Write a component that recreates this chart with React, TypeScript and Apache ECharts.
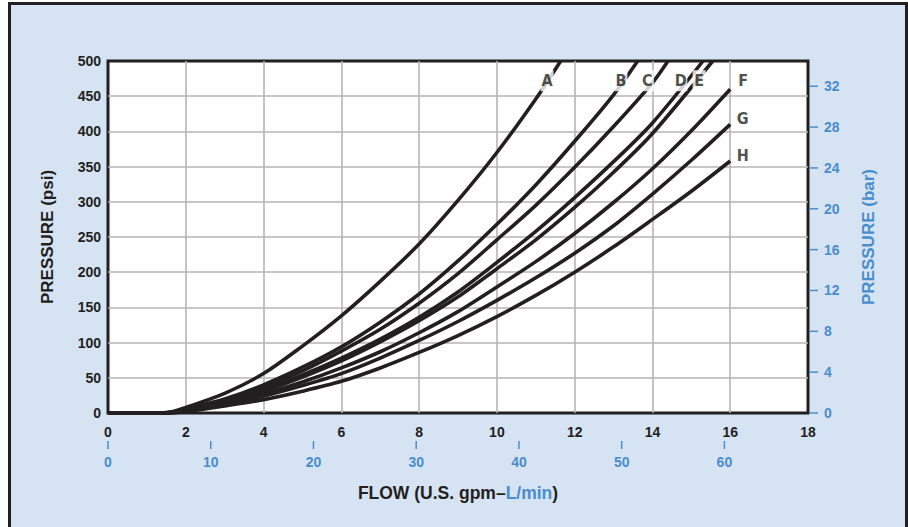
import React, { useEffect, useRef } from "react";
import * as echarts from "echarts";

// ---- data ----
const flowGpm = [0, 1, 1.5, 2, 3, 4, 5, 6, 7, 8, 9, 10, 11, 12, 13, 14, 15, 16];
const curveA = [0, 0, 0.5, 8, 28, 56, 95, 138, 187, 240, 302, 370, 446];
const curveB = [0, 0, 0.3, 6, 20, 40, 65, 94, 129, 169, 216, 268, 324, 386, 452];
const curveC = [0, 0, 0.3, 5, 18, 37, 60, 88, 119, 156, 198, 246, 295, 349, 407, 469];
const curveD = [0, 0, 0.2, 4, 16, 33, 54, 78, 105, 136, 172, 214, 258, 306, 357, 412];
const curveE = [0, 0, 0.2, 4, 15, 31, 51, 74, 101, 131, 165, 205, 246, 292, 342, 397];
const curveF = [0, 0, 0.2, 3, 13, 27, 44, 64, 87, 114, 144, 179, 215, 255, 299, 347, 401, 460];
const curveG = [0, 0, 0.2, 3, 12, 24, 39, 56, 78, 103, 130, 160, 192, 227, 266, 311, 359, 410];
const curveH = [0, 0, 0.1, 2, 10, 19, 31, 45, 64, 86, 110, 137, 167, 200, 236, 275, 315, 358];
// flow (gpm) where the curves A–E leave the chart at 500 psi
const topFlow = [11.64, 13.62, 14.4, 15.3, 15.55, null, null, null];
const curveNames = ["A", "B", "C", "D", "E", "F", "G", "H"];
const curves = [curveA, curveB, curveC, curveD, curveE, curveF, curveG, curveH];
// where each curve letter sits (gpm, psi)
const labelFlow = [11.29, 13.19, 13.87, 14.73, 15.2, 16.33, 16.32, 16.32];
const labelPsi = [472, 472, 472, 472, 472, 473, 419, 366];

const psiTicks = { min: 0, max: 500, step: 50 };
const gpmTicks = { min: 0, max: 18, step: 2 };
const barStep = 4;
const barLast = 32;
const lpmStep = 10;
const lpmLast = 60;
const PSI_PER_BAR = 14.5038;
const LPM_PER_GPM = 3.78541;

const BLACK = "#231f20";
const BLUE = "#4a8dcc";
const GRIDC = "#b5b5b5";
const FONT = "'Liberation Sans', Arial, Helvetica, sans-serif";
const NARROW = "'Liberation Sans Narrow', 'DejaVu Sans Condensed', 'Liberation Sans', sans-serif";

function isStep(v: number, step: number, last: number) {
  const r = Math.round(v / step) * step;
  return Math.abs(v - r) < 1e-6 && r <= last;
}

function buildOption() {
  const lineSeries = curves.map((arr, i) => {
    const data: any[] = arr.map((p, j) => [flowGpm[j], p]);
    if (topFlow[i] != null) data.push([topFlow[i], psiTicks.max]);
    return {
      type: "line",
      name: curveNames[i],
      data,
      xAxisIndex: 0,
      yAxisIndex: 0,
      showSymbol: false,
      smooth: 0.3,
      lineStyle: { color: BLACK, width: 3.6 },
      itemStyle: { color: BLACK },
      z: 3,
    };
  });
  const labelSeries = {
    type: "scatter",
    xAxisIndex: 0,
    yAxisIndex: 0,
    z: 10,
    symbol: "rect",
    symbolSize: [13, 21],
    itemStyle: { color: "#ffffff" },
    label: {
      show: true,
      position: "inside",
      formatter: (p: any) => p.name,
      color: BLACK,
      fontFamily: NARROW,
      fontWeight: "bold",
      fontSize: 16,
    },
    emphasis: { disabled: true },
    data: curveNames.map((n, i) => ({ name: n, value: [labelFlow[i], labelPsi[i]] })),
  };
  const numStyle = { fontFamily: FONT, fontWeight: "bold", fontSize: 14 };
  return {
    animation: false,
    backgroundColor: "transparent",
    grid: {
      left: 108,
      top: 61,
      width: 700,
      height: 352,
      show: true,
      backgroundColor: "#ffffff",
      borderColor: BLACK,
      borderWidth: 3,
      containLabel: false,
    },
    xAxis: [
      {
        type: "value",
        min: gpmTicks.min,
        max: gpmTicks.max,
        interval: gpmTicks.step,
        position: "bottom",
        axisLine: { show: false },
        axisTick: { show: false },
        axisLabel: { ...numStyle, color: BLACK, margin: 12 },
        splitLine: { show: true, showMinLine: false, showMaxLine: false, lineStyle: { color: GRIDC, width: 1.6 } },
        name: "{a|FLOW (U.S. gpm–}{b|L/min}{a|)}",
        nameLocation: "middle",
        nameGap: 71,
        nameTextStyle: {
          rich: {
            a: { color: BLACK, fontFamily: FONT, fontWeight: "bold", fontSize: 17.5 },
            b: { color: BLUE, fontFamily: FONT, fontWeight: "bold", fontSize: 17.5 },
          },
        },
      },
      {
        type: "value",
        min: 0,
        max: gpmTicks.max * LPM_PER_GPM,
        interval: lpmStep,
        position: "bottom",
        axisLine: { show: false },
        axisTick: { show: false },
        axisLabel: {
          margin: 28,
          formatter: (v: number) => (isStep(v, lpmStep, lpmLast) ? `{t| }\n{v|${Math.round(v)}}` : ""),
          rich: {
            t: { width: 1.5, height: 8, lineHeight: 8, backgroundColor: BLUE, align: "center" },
            v: { ...numStyle, color: BLUE, lineHeight: 25, align: "center" },
          },
        },
        splitLine: { show: false },
      },
    ],
    yAxis: [
      {
        type: "value",
        min: psiTicks.min,
        max: psiTicks.max,
        interval: psiTicks.step,
        position: "left",
        axisLine: { show: false },
        axisTick: { show: false },
        axisLabel: { ...numStyle, color: BLACK, margin: 7 },
        splitLine: { show: true, showMinLine: false, showMaxLine: false, lineStyle: { color: GRIDC, width: 1.6 } },
        name: "PRESSURE (psi)",
        nameLocation: "middle",
        nameRotate: 90,
        nameGap: 52,
        nameTextStyle: { color: BLACK, fontFamily: FONT, fontWeight: "bold", fontSize: 17 },
      },
      {
        type: "value",
        min: 0,
        max: psiTicks.max / PSI_PER_BAR,
        interval: barStep,
        position: "right",
        axisLine: { show: false },
        axisTick: { show: false },
        axisLabel: {
          margin: 2,
          formatter: (v: number) => (isStep(v, barStep, barLast) ? `{t| }{v|${Math.round(v)}}` : ""),
          rich: {
            t: { width: 8, height: 1.5, backgroundColor: BLUE, verticalAlign: "middle" },
            v: { ...numStyle, color: BLUE, padding: [0, 0, 0, 6], verticalAlign: "middle" },
          },
        },
        splitLine: { show: false },
        name: "PRESSURE (bar)",
        nameLocation: "middle",
        nameRotate: 90,
        nameGap: 52,
        nameTextStyle: { color: BLUE, fontFamily: FONT, fontWeight: "bold", fontSize: 17 },
      },
    ],
    series: [...lineSeries, labelSeries],
  };
}

export default function App() {
  const ref = useRef<HTMLDivElement>(null);
  useEffect(() => {
    if (!ref.current) return;
    const chart = echarts.init(ref.current, null, { renderer: "svg" });
    chart.setOption(buildOption() as any);
    return () => chart.dispose();
  }, []);
  return (
    <div
      style={{
        position: "fixed",
        left: 0,
        top: 0,
        width: 908,
        height: 527,
        background: "#ffffff",
        overflow: "hidden",
      }}
    >
      <div
        style={{
          position: "absolute",
          left: 8,
          top: 1.5,
          width: 900,
          height: 600,
          boxSizing: "border-box",
          border: `3px solid ${BLACK}`,
          borderBottom: "none",
          background: "#d6e3f3",
        }}
      />
      <div ref={ref} style={{ position: "absolute", left: 0, top: 0, width: 908, height: 527 }} />
    </div>
  );
}
